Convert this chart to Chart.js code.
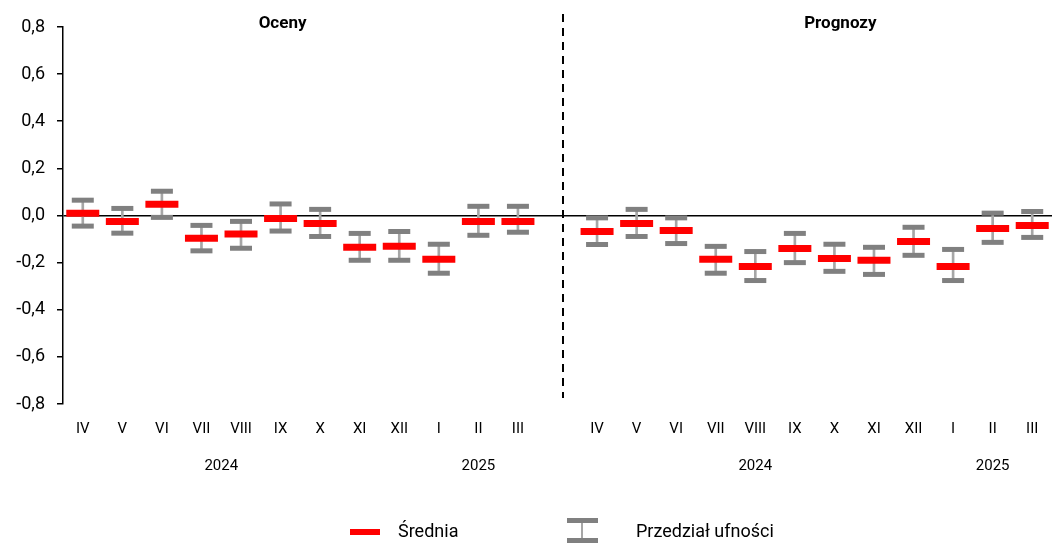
<!DOCTYPE html>
<html>
<head>
<meta charset="utf-8">
<script src="https://cdn.jsdelivr.net/npm/chart.js@4"></script>
<style>
  body { margin: 0; background: #fff; font-family: Roboto, sans-serif; }
  #wrap { position: relative; width: 1052px; height: 544px; }
  .legend-text { position: absolute; font-size: 18px; color: #000; line-height: 20px; }
</style>
</head>
<body>
<div id="wrap">
  <canvas id="chart" width="1052" height="544"></canvas>
  <div style="position:absolute;left:350px;top:529px;width:30px;height:6px;background:#ff0000"></div>
  <div class="legend-text" style="left:398px;top:521px">Średnia</div>
  <div style="position:absolute;left:567px;top:518px;width:31px;height:5px;background:#808080"></div>
  <div style="position:absolute;left:581px;top:523px;width:2px;height:15px;background:#a6a6a6"></div>
  <div style="position:absolute;left:567px;top:538px;width:31px;height:5px;background:#808080"></div>
  <div class="legend-text" style="left:636px;top:521px">Przedział ufności</div>
</div>
<script>
const months = ['IV', 'V', 'VI', 'VII', 'VIII', 'IX', 'X', 'XI', 'XII', 'I', 'II', 'III'];
const panelTitles = ['Oceny', 'Prognozy'];
const yearLabels = ['2024', '2025', '2024', '2025'];

// Oceny
const ocenyMean  = [0.01, -0.025, 0.048, -0.097, -0.079, -0.013, -0.034, -0.135, -0.131, -0.186, -0.025, -0.025];
const ocenyUpper = [0.065, 0.03, 0.103, -0.042, -0.025, 0.049, 0.026, -0.076, -0.068, -0.122, 0.039, 0.039];
const ocenyLower = [-0.045, -0.075, -0.008, -0.15, -0.139, -0.066, -0.089, -0.19, -0.19, -0.245, -0.084, -0.071];

// Prognozy
const progMean  = [-0.068, -0.034, -0.064, -0.186, -0.216, -0.14, -0.182, -0.19, -0.11, -0.216, -0.055, -0.042];
const progUpper = [-0.01, 0.026, -0.01, -0.131, -0.153, -0.076, -0.122, -0.135, -0.05, -0.144, 0.01, 0.017];
const progLower = [-0.123, -0.089, -0.119, -0.245, -0.276, -0.2, -0.237, -0.25, -0.169, -0.276, -0.114, -0.093];

const labels = months.concat(['']).concat(months);
const meanData = ocenyMean.concat([null]).concat(progMean);
const upperData = ocenyUpper.concat([null]).concat(progUpper);
const lowerData = ocenyLower.concat([null]).concat(progLower);
const rangeData = lowerData.map((lo, i) => lo === null ? null : [lo, upperData[i]]);

const extras = {
  id: 'extras',
  afterDraw(chart) {
    const ctx = chart.ctx;
    const x = chart.scales.x;
    ctx.save();
    // dashed separator
    const sepX = x.getPixelForValue(12.14);
    ctx.strokeStyle = '#000';
    ctx.lineWidth = 2;
    ctx.setLineDash([8, 6]);
    ctx.beginPath();
    ctx.moveTo(Math.round(sepX), 14);
    ctx.lineTo(Math.round(sepX), 398);
    ctx.stroke();
    ctx.setLineDash([]);
    // panel titles
    ctx.fillStyle = '#000';
    ctx.textAlign = 'center';
    ctx.textBaseline = 'middle';
    ctx.font = 'bold 17px Roboto';
    ctx.fillText(panelTitles[0], x.getPixelForValue(5.05), 24);
    ctx.fillText(panelTitles[1], x.getPixelForValue(19.15), 24);
    // year labels
    ctx.font = '15px Roboto';
    const yearPos = [3.5, 10, 17, 23];
    yearLabels.forEach((t, i) => {
      ctx.fillText(t, x.getPixelForValue(yearPos[i]), 466);
    });
    ctx.restore();
  }
};

new Chart(document.getElementById('chart'), {
  type: 'bar',
  data: {
    labels: labels,
    datasets: [
      {
        type: 'line',
        label: 'Średnia',
        data: meanData,
        showLine: false,
        pointStyle: 'line',
        pointRadius: 16.5,
        pointHoverRadius: 16.5,
        pointBorderWidth: 7,
        pointHoverBorderWidth: 7,
        borderColor: '#ff0000',
        backgroundColor: '#ff0000',
        order: 0
      },
      {
        type: 'line',
        label: 'Górna granica',
        data: upperData,
        showLine: false,
        pointStyle: 'line',
        pointRadius: 11,
        pointHoverRadius: 11,
        pointBorderWidth: 5,
        pointHoverBorderWidth: 5,
        borderColor: '#808080',
        backgroundColor: '#808080',
        order: 1
      },
      {
        type: 'line',
        label: 'Dolna granica',
        data: lowerData,
        showLine: false,
        pointStyle: 'line',
        pointRadius: 11,
        pointHoverRadius: 11,
        pointBorderWidth: 5,
        pointHoverBorderWidth: 5,
        borderColor: '#808080',
        backgroundColor: '#808080',
        order: 1
      },
      {
        label: 'Przedział ufności',
        data: rangeData,
        backgroundColor: '#a6a6a6',
        borderWidth: 0,
        barThickness: 2,
        order: 2
      }
    ]
  },
  options: {
    responsive: false,
    animation: false,
    events: [],
    layout: { autoPadding: false, padding: { top: 27, left: 0, right: -4, bottom: 0 } },
    plugins: {
      legend: { display: false },
      tooltip: { enabled: false }
    },
    scales: {
      x: {
        offset: true,
        grid: { display: false, drawTicks: false },
        border: { display: false },
        ticks: {
          autoSkip: false,
          maxRotation: 0,
          padding: 16,
          color: '#000',
          font: { family: 'Roboto', size: 15 }
        },
        afterFit(scale) {
          scale.height = 140;
          scale.paddingLeft = 0;
          scale.paddingRight = 0;
        }
      },
      y: {
        min: -0.8,
        max: 0.8,
        border: { display: true, color: '#000', width: 1.5 },
        grid: {
          color: ctx => ctx.tick && Math.abs(ctx.tick.value) < 1e-9 ? '#000' : 'rgba(0,0,0,0)',
          lineWidth: 1.5,
          tickColor: '#000',
          tickLength: 6
        },
        ticks: {
          stepSize: 0.2,
          padding: 12,
          color: '#000',
          font: { family: 'Roboto', size: 18 },
          callback: v => v.toFixed(1).replace('.', ',')
        },
        afterFit(scale) { scale.width = 63; }
      }
    }
  },
  plugins: [extras]
});
</script>
</body>
</html>
